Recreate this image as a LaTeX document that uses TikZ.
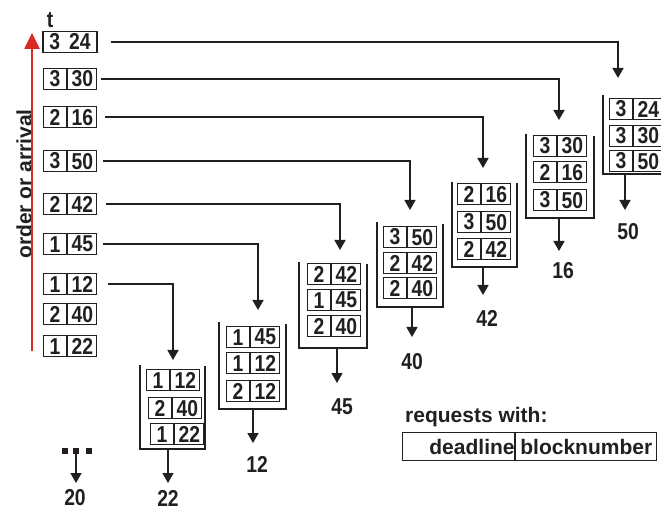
\documentclass[tikz,border=0pt]{standalone}
\usepackage{fontspec}
\setmainfont{Liberation Sans}
\newfontfamily\condfont[FakeStretch=0.84]{Liberation Sans Bold}
\usetikzlibrary{arrows.meta,positioning}
\definecolor{ink}{HTML}{231F20}
\definecolor{arrivalred}{HTML}{D92B23}
\tikzset{
  cell/.style={draw=ink,line width=1.2pt,inner sep=0pt,minimum height=21pt,text=ink,font=\condfont\fontsize{23}{23}\selectfont},
  dlcell/.style={cell,minimum width=23pt},
  bncell/.style={cell,minimum width=29pt},
  bucket/.style={draw=ink,line width=1.8pt},
  flow/.style={-{Triangle[length=10pt,width=11pt]},line width=1.6pt,draw=ink},
  arrival/.style={-{Triangle[length=16pt,width=15pt]},line width=2.6pt,draw=arrivalred},
  outlabel/.style={text=ink,inner sep=0pt,font=\condfont\fontsize{23}{23}\selectfont},
  legcell/.style={draw=ink,line width=1.2pt,inner sep=0pt,minimum height=28pt,text=ink,font=\fontsize{21}{21}\selectfont\bfseries},
  dot/.style={fill=ink,minimum size=6pt,inner sep=0pt}
}
% one request: deadline cell + blocknumber cell
\newcommand{\req}[5]{%
  \node[dlcell,anchor=north west] (#1dl) at (#2,#3) {#4};
  \node[bncell,anchor=north west] (#1) at (#1dl.north east) {#5};}

\begin{document}
\begin{tikzpicture}[x=1pt,y=-1pt]
  \useasboundingbox (0,0) rectangle (661,510);
  % arrival queue
  \node[outlabel] (t) at (50,20) {t};
  \node[outlabel,rotate=90,font=\fontsize{21}{21}\selectfont\bfseries] (order) at (24,184) {order or arrival};
  \node[cell,minimum width=54pt] (q24) at (70,42) {3\hspace{9pt}24};
  \req{q30}{43}{68}{3}{30}
  \req{q16}{43}{106}{2}{16}
  \req{q50}{43}{150}{3}{50}
  \req{q42}{43}{193}{2}{42}
  \req{q45}{43}{233}{1}{45}
  \req{q12}{43}{273}{1}{12}
  \req{q40}{43}{303}{2}{40}
  \req{q22}{43}{335}{1}{22}
  \coordinate (arrbot) at (32,351);
  \coordinate (arrtop) at (32,33);
  \draw[arrival] (arrbot) -- (arrtop);
  % queue 1
  \req{sa1}{146}{369}{1}{12}
  \req{sa2}{148}{397}{2}{40}
  \req{sa3}{150}{423}{1}{22}
  \draw[bucket] (140,365) |- (205,449) -- (205,366);
  \coordinate (ina) at (173,360);
  \coordinate (bota) at (168,449);
  \coordinate (outa) at (168,483);
  \node[outlabel] (n22) at (168,498) {22};
  % queue 2
  \req{sb1}{226}{326}{1}{45}
  \req{sb2}{226}{352}{1}{12}
  \req{sb3}{226}{380}{2}{12}
  \draw[bucket] (219,322) |- (286,409) -- (286,324);
  \coordinate (inb) at (258,310);
  \coordinate (botb) at (253,409);
  \coordinate (outb) at (253,443);
  \node[outlabel] (n12) at (257,464) {12};
  % queue 3
  \req{sc1}{307}{263}{2}{42}
  \req{sc2}{307}{289}{1}{45}
  \req{sc3}{307}{315}{2}{40}
  \draw[bucket] (299,262) |- (367,348) -- (367,264);
  \coordinate (inc) at (340,250);
  \coordinate (botc) at (337,348);
  \coordinate (outc) at (337,383);
  \node[outlabel] (n45) at (342,407) {45};
  % queue 4
  \req{sd1}{383}{226}{3}{50}
  \req{sd2}{383}{252}{2}{42}
  \req{sd3}{383}{277}{2}{40}
  \draw[bucket] (377,222) |- (443,307) -- (443,224);
  \coordinate (ind) at (410,210);
  \coordinate (botd) at (412,307);
  \coordinate (outd) at (412,337);
  \node[outlabel] (n40) at (412,362) {40};
  % queue 5
  \req{se1}{457}{183}{2}{16}
  \req{se2}{457}{211}{3}{50}
  \req{se3}{457}{238}{2}{42}
  \draw[bucket] (452,182) |- (517,267) -- (517,183);
  \coordinate (ine) at (483,168);
  \coordinate (bote) at (483,267);
  \coordinate (oute) at (483,295);
  \node[outlabel] (n42) at (487,318) {42};
  % queue 6
  \req{sf1}{533}{135}{3}{30}
  \req{sf2}{533}{161}{2}{16}
  \req{sf3}{533}{189}{3}{50}
  \draw[bucket] (526,134) |- (594,218) -- (594,136);
  \coordinate (inf) at (559,120);
  \coordinate (botf) at (559,218);
  \coordinate (outf) at (559,251);
  \node[outlabel] (n16) at (563,271) {16};
  % queue 7
  \req{sg1}{609}{98}{3}{24}
  \req{sg2}{609}{125}{3}{30}
  \req{sg3}{609}{150}{3}{50}
  \draw[bucket] (603,95) |- (661,174);
  \coordinate (ing) at (618,78);
  \coordinate (botg) at (625,174);
  \coordinate (outg) at (625,210);
  \node[outlabel] (n50) at (628,232) {50};
  % start
  \node[dot] (d1) at (65,451) {};
  \node[dot] (d2) at (76,451) {};
  \node[dot] (d3) at (89,451) {};
  \coordinate (out0) at (76,483);
  \node[outlabel] (n20) at (75,498) {20};
  % arrivals into the queues
  \draw[flow,shorten <=13pt] (q24) -| (ing);
  \draw[flow,shorten <=4pt] (q30) -| (inf);
  \draw[flow,shorten <=8pt] (q16) -| (ine);
  \draw[flow,shorten <=6pt] (q50) -| (ind);
  \draw[flow,shorten <=9pt] (q42) -| (inc);
  \draw[flow,shorten <=6pt] (q45) -| (inb);
  \draw[flow,shorten <=11pt] (q12) -| (ina);
  % served
  \draw[flow] (d2) -- (out0);
  \draw[flow] (bota) -- (outa);
  \draw[flow] (botb) -- (outb);
  \draw[flow] (botc) -- (outc);
  \draw[flow] (botd) -- (outd);
  \draw[flow] (bote) -- (oute);
  \draw[flow] (botf) -- (outf);
  \draw[flow] (botg) -- (outg);
  % legend
  \node[outlabel,anchor=base west,font=\fontsize{21}{21}\selectfont\bfseries] (legend) at (405,422) {requests with:};
  \node[legcell,minimum width=112pt,text width=112pt,align=right,anchor=north west] (ldl) at (402,432) {deadline};
  \node[legcell,minimum width=141pt,anchor=north west] (lbn) at (ldl.north east) {blocknumber};
\end{tikzpicture}
\end{document}
